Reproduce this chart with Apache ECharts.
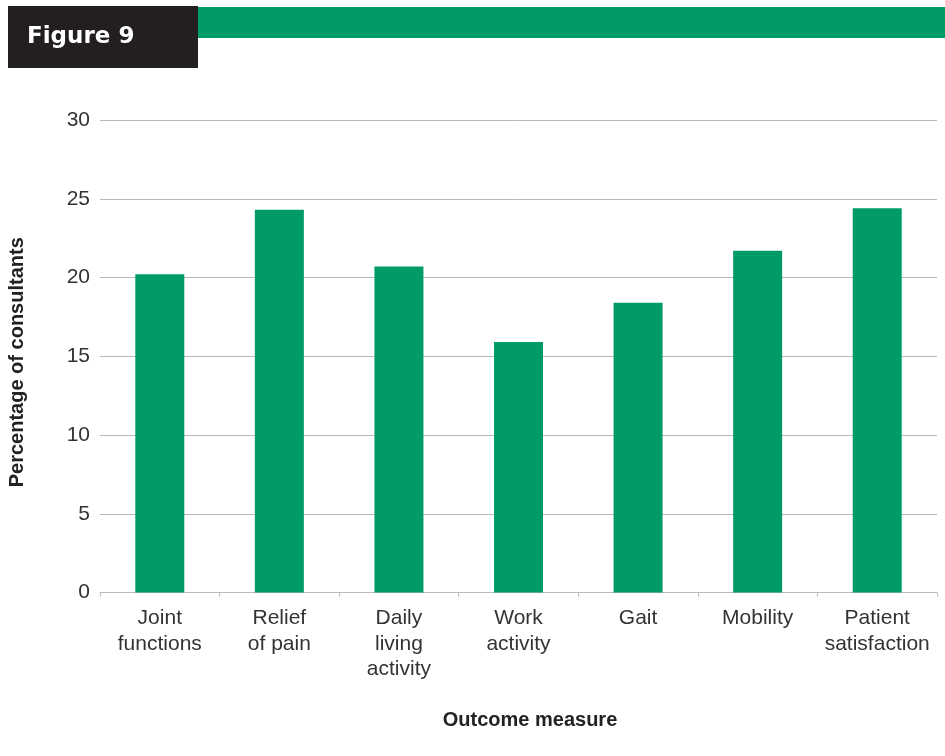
<!DOCTYPE html>
<html>
<head>
<meta charset="utf-8">
<script src="https://cdn.jsdelivr.net/npm/echarts@6/dist/echarts.min.js"></script>
<style>
html,body{margin:0;padding:0;background:#fff;}
#chart{width:945px;height:756px;}
</style>
</head>
<body>
<div id="chart"></div>
<script>
const categories = ["Joint\nfunctions", "Relief\nof pain", "Daily\nliving\nactivity", "Work\nactivity", "Gait", "Mobility", "Patient\nsatisfaction"];
const values = [20.2, 24.3, 20.7, 15.9, 18.4, 21.7, 24.4];
const yTicks = [0, 5, 10, 15, 20, 25, 30];
const figureTitle = "Figure 9";
const xTitle = "Outcome measure";
const yTitle = "Percentage of consultants";

const green = "#009B66";
const chart = echarts.init(document.getElementById('chart'), null, {renderer: 'canvas'});
chart.setOption({
  backgroundColor: '#fff',
  animation: false,
  textStyle: {fontFamily: 'Liberation Sans, Arial, sans-serif'},
  grid: {left: 100, right: 8, top: 120, bottom: 163.5, containLabel: false, outerBoundsMode: 'none'},
  graphic: [
    {type: 'rect', shape: {x: 198, y: 7, width: 747, height: 31}, style: {fill: green}},
    {type: 'rect', shape: {x: 8, y: 6, width: 190, height: 62}, style: {fill: '#231F20'}},
    {type: 'text', left: 27, top: 26, style: {text: figureTitle, fill: '#fff', font: 'bold 23px "DejaVu Sans", Arial, sans-serif'}}
  ],
  xAxis: {
    type: 'category',
    data: categories,
    name: xTitle,
    nameLocation: 'middle',
    nameGap: 118,
    nameTextStyle: {fontSize: 20, fontWeight: 'bold', color: '#222', fontFamily: 'Liberation Sans, Arial, sans-serif', padding: [0, 0, 0, 23]},
    axisLine: {lineStyle: {color: '#bbb', width: 1}},
    axisTick: {show: true, length: 4, lineStyle: {color: '#bbb'}},
    axisLabel: {fontSize: 21, color: '#333', lineHeight: 25.5, margin: 13, interval: 0, align: 'center', verticalAlign: 'top', fontFamily: 'Liberation Sans, Arial, sans-serif'}
  },
  yAxis: {
    type: 'value',
    min: yTicks[0],
    max: yTicks[yTicks.length - 1],
    interval: 5,
    name: yTitle,
    nameLocation: 'middle',
    nameGap: 73,
    nameTextStyle: {fontSize: 20, fontWeight: 'bold', color: '#222', fontFamily: 'Liberation Sans, Arial, sans-serif', padding: [0, 12, 0, 0]},
    axisLine: {show: false},
    axisTick: {show: false},
    axisLabel: {fontSize: 21, color: '#333', margin: 10, fontFamily: 'Liberation Sans, Arial, sans-serif'},
    splitLine: {lineStyle: {color: '#b8b8b8', width: 1}}
  },
  series: [{
    type: 'bar',
    data: values,
    barWidth: 49,
    itemStyle: {color: green}
  }]
});
</script>
</body>
</html>
